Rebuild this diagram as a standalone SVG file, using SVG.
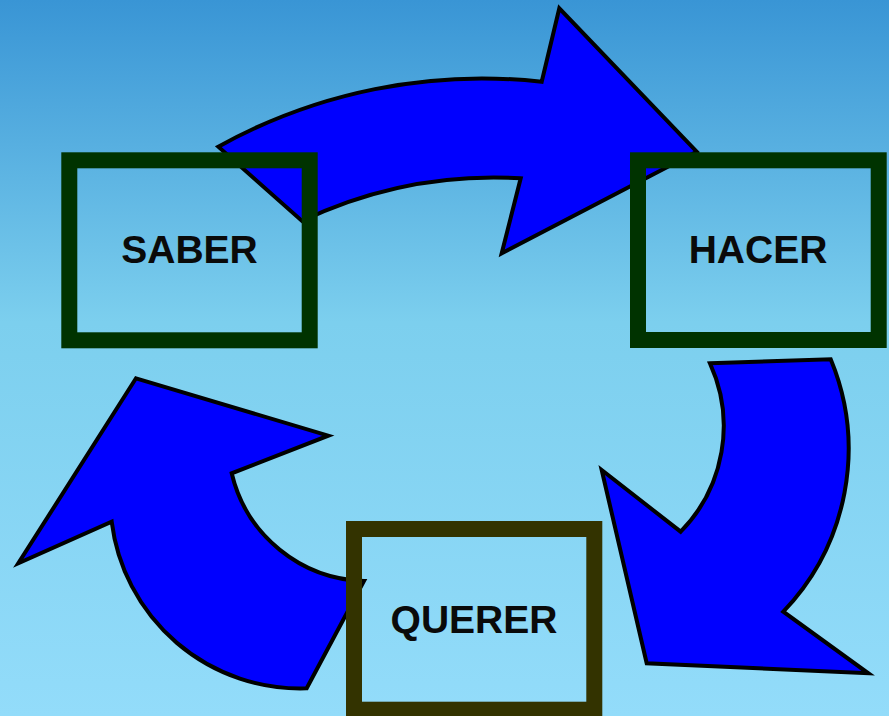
<svg xmlns="http://www.w3.org/2000/svg" width="889" height="716" viewBox="0 0 889 716">
  <defs>
    <linearGradient id="bg" x1="0" y1="0" x2="0" y2="1">
      <stop offset="0" stop-color="#3995d5"/>
      <stop offset="0.45" stop-color="#7ccfee"/>
      <stop offset="1" stop-color="#93dcfa"/>
    </linearGradient>
    <style>
      .arrow { fill: #0000ff; stroke: #000000; stroke-width: 4; stroke-linejoin: miter; stroke-miterlimit: 10; }
      .box { fill: none; stroke-width: 16; }
      .green { stroke: #003300; }
      .olive { stroke: #333300; }
      .label { font-family: "Liberation Sans", Arial, sans-serif; font-weight: bold; font-size: 39px; fill: #0a0a0a; text-anchor: middle; }
    </style>
  </defs>
  <rect x="0" y="0" width="889" height="716" fill="url(#bg)"/>
  <g id="connectors">
    <path class="arrow" d="M 218.3,146.7 A 544,544 0 0 1 541.7,81.7 L 559.3,8.3 L 696.7,151.7 L 501.7,253.3 L 520.7,178.3 A 449,449 0 0 0 302,221 Z"/>
    <path class="arrow" d="M 710,363.3 L 830.7,359.3 A 235,235 0 0 1 783.3,611.7 L 868.3,673.3 L 646.7,663.3 L 601.7,470 L 680.7,531.7 A 151,151 0 0 0 710,363.3 Z"/>
    <path class="arrow" d="M 136,378.3 L 328.3,435.7 L 231.7,473.3 A 140,140 0 0 0 364,581 L 306.7,688.3 A 190,190 0 0 1 111.7,521.7 L 18.3,563.3 Z"/>
  </g>
  <g id="saber">
    <rect class="box green" x="69.3" y="160.3" width="240.4" height="180"/>
    <text class="label" x="189.5" y="263">SABER</text>
  </g>
  <g id="hacer">
    <rect class="box green" x="638" y="160.3" width="240.7" height="179.7"/>
    <text class="label" x="758" y="263">HACER</text>
  </g>
  <g id="querer">
    <rect class="box olive" x="354" y="529" width="240.3" height="180.7"/>
    <text class="label" x="474" y="633">QUERER</text>
  </g>
</svg>
